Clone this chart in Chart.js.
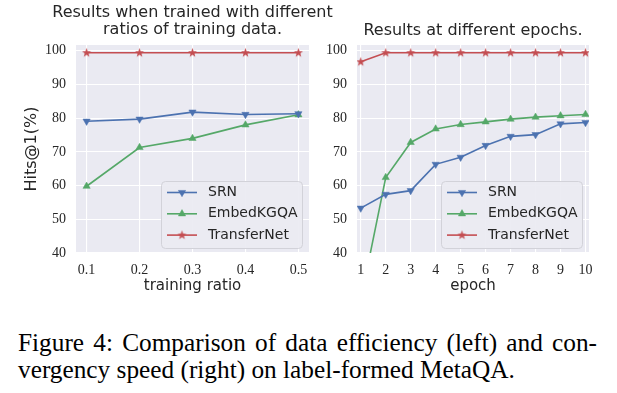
<!DOCTYPE html>
<html>
<head>
<meta charset="utf-8">
<script src="https://cdn.jsdelivr.net/npm/chart.js@4"></script>
<style>
  body { margin: 0; background: #fff; width: 617px; height: 393px; position: relative; overflow: hidden; }
  #left { position: absolute; left: 0; top: 0; }
  #right { position: absolute; left: 310px; top: 0; }
  .caption { position: absolute; left: 18px; top: 329px; width: 579px; font-family: "Liberation Serif"; font-size: 25.3px; line-height: 27px; color: #000; }
  .caption .l1 { text-align: justify; text-align-last: justify; white-space: nowrap; }
  .caption .l2 { white-space: nowrap; }
</style>
</head>
<body>
<canvas id="left" width="345" height="300"></canvas>
<canvas id="right" width="307" height="300"></canvas>
<div class="caption">
  <div class="l1">Figure 4: Comparison of data efficiency (left) and con-</div>
  <div class="l2">vergency speed (right) on label-formed MetaQA.</div>
</div>
<script>
const ratios = [0.1, 0.2, 0.3, 0.4, 0.5];
const ratioSRN = [79.1, 79.7, 81.8, 81.1, 81.3];
const ratioEmbed = [59.8, 71.3, 74.0, 78.0, 81.0];
const ratioTransfer = [99.4, 99.4, 99.4, 99.4, 99.4];

const epochs = [1, 2, 3, 4, 5, 6, 7, 8, 9, 10];
const epochSRN = [53.3, 57.4, 58.5, 66.3, 68.4, 71.9, 74.6, 75.1, 78.3, 78.7];
const epochEmbed = [26.0, 62.4, 72.8, 76.8, 78.1, 78.9, 79.7, 80.3, 80.7, 81.1];
const epochTransfer = [96.7, 99.4, 99.4, 99.4, 99.4, 99.4, 99.4, 99.4, 99.4, 99.4];

const hitsTicks = [40, 50, 60, 70, 80, 90, 100];

const BLUE = '#4C72B0', GREEN = '#55A868', RED = '#C44E52';
const TEXT = '#262626';

// filled 5 point star, like matplotlib '*'
const star = document.createElement('canvas');
star.width = 11; star.height = 11;
(function () {
  const c = star.getContext('2d');
  c.fillStyle = RED;
  c.beginPath();
  for (let i = 0; i < 10; i++) {
    const r = i % 2 ? 2.0 : 4.8;
    const a = -Math.PI / 2 + i * Math.PI / 5;
    c.lineTo(5.5 + r * Math.cos(a), 5.5 + r * Math.sin(a));
  }
  c.closePath();
  c.fill();
})();

function series(xs, ys) {
  return xs.map((x, i) => ({ x: x, y: ys[i] }));
}

function datasets(xs, srn, embed, transfer) {
  return [
    { label: 'SRN', data: series(xs, srn), borderColor: BLUE, backgroundColor: BLUE,
      pointStyle: 'triangle', rotation: 180, pointRadius: 4.2, borderWidth: 1.6, pointBorderWidth: 0.5 },
    { label: 'EmbedKGQA', data: series(xs, embed), borderColor: GREEN, backgroundColor: GREEN,
      pointStyle: 'triangle', pointRadius: 4.2, borderWidth: 1.6, pointBorderWidth: 0.5 },
    { label: 'TransferNet', data: series(xs, transfer), borderColor: RED, backgroundColor: RED,
      pointStyle: star, pointRadius: 4, borderWidth: 1.6 }
  ];
}

const plotBg = {
  id: 'plotBg',
  beforeDraw(chart) {
    const a = chart.chartArea, ctx = chart.ctx;
    ctx.save();
    ctx.fillStyle = '#EAEAF2';
    ctx.fillRect(a.left, a.top, a.right - a.left, a.bottom - a.top);
    ctx.restore();
  }
};

const headText = {
  id: 'headText',
  afterDraw(chart, args, opts) {
    const a = chart.chartArea, ctx = chart.ctx;
    ctx.save();
    ctx.font = '16px "DejaVu Sans"';
    ctx.fillStyle = TEXT;
    ctx.textAlign = 'center';
    ctx.textBaseline = 'middle';
    opts.lines.forEach((t, i) => ctx.fillText(t, (a.left + a.right) / 2, opts.ys[i]));
    ctx.restore();
  }
};

const boxLegend = {
  id: 'boxLegend',
  afterDatasetsDraw(chart, args, opts) {
    const a = chart.chartArea, ctx = chart.ctx;
    const x0 = a.right - opts.right - opts.width;
    const y0 = a.bottom - opts.bottom - opts.height;
    ctx.save();
    ctx.beginPath();
    ctx.roundRect(x0 + 0.5, y0 + 0.5, opts.width, opts.height, 4);
    ctx.fillStyle = 'rgba(234,234,242,0.92)';
    ctx.fill();
    ctx.strokeStyle = '#D2D2D9';
    ctx.lineWidth = 1;
    ctx.stroke();
    ctx.font = '14px "DejaVu Sans"';
    ctx.textBaseline = 'middle';
    chart.data.datasets.forEach((ds, i) => {
      const y = y0 + 11.5 + i * 21.3;
      ctx.strokeStyle = ds.borderColor;
      ctx.lineWidth = ds.borderWidth;
      ctx.beginPath();
      ctx.moveTo(x0 + 6, y);
      ctx.lineTo(x0 + 36, y);
      ctx.stroke();
      ctx.fillStyle = ds.backgroundColor;
      ctx.strokeStyle = ds.borderColor;
      ctx.lineWidth = 0.5;
      Chart.helpers.drawPoint(ctx, { pointStyle: ds.pointStyle, radius: ds.pointRadius, rotation: ds.rotation || 0, borderWidth: 0.5 }, x0 + 21, y);
      ctx.fillStyle = TEXT;
      ctx.fillText(ds.label, x0 + 47, y);
    });
    ctx.restore();
  }
};

function scales(xTicks, xMin, xMax, xTitle, yWidth, yTitle) {
  return {
    x: {
      type: 'linear', min: xMin, max: xMax,
      afterBuildTicks: s => { s.ticks = xTicks.map(v => ({ value: v })); },
      afterFit: s => { s.height = 47; },
      ticks: { font: { family: 'Liberation Serif', size: 14 }, color: TEXT, padding: 9, maxRotation: 0, autoSkip: false, callback: v => String(v) },
      grid: { color: '#fff', lineWidth: 1.1, drawTicks: false },
      border: { display: false },
      title: { display: true, text: xTitle, font: { family: 'DejaVu Sans', size: 15 }, color: TEXT, padding: { top: 0, bottom: 5 } }
    },
    y: {
      type: 'linear', min: 40, max: 101.7,
      afterBuildTicks: s => { s.ticks = hitsTicks.map(v => ({ value: v })); },
      afterFit: s => { s.width = yWidth; },
      ticks: { font: { family: 'Liberation Serif', size: 14 }, color: TEXT, padding: 10, callback: v => String(v) },
      grid: { color: '#fff', lineWidth: 1.1, drawTicks: false },
      border: { display: false },
      title: { display: !!yTitle, text: yTitle, font: { family: 'DejaVu Sans', size: 16 }, color: TEXT, padding: { top: 22, bottom: 0 } }
    }
  };
}

function common(lines, ys, padRight) {
  return {
    responsive: false,
    animation: false,
    layout: { padding: { top: 45, right: padRight, left: 0, bottom: 0 } },
    plugins: {
      legend: { display: false },
      tooltip: { enabled: false },
      headText: { lines: lines, ys: ys },
      boxLegend: { width: 141, height: 67, right: 7, bottom: 5 }
    }
  };
}

new Chart(document.getElementById('left'), {
  type: 'line',
  data: { datasets: datasets(ratios, ratioSRN, ratioEmbed, ratioTransfer) },
  options: Object.assign(common(['Results when trained with different', 'ratios of training data.'], [13, 30], 36),
    { scales: scales(ratios, 0.08, 0.52, 'training ratio', 76, 'Hits@1(%)') }),
  plugins: [plotBg, headText, boxLegend]
});

new Chart(document.getElementById('right'), {
  type: 'line',
  data: { datasets: datasets(epochs, epochSRN, epochEmbed, epochTransfer) },
  options: Object.assign(common(['Results at different epochs.'], [31], 28),
    { scales: scales(epochs, 0.85, 10.14, 'epoch', 47, '') }),
  plugins: [plotBg, headText, boxLegend]
});
</script>
</body>
</html>
